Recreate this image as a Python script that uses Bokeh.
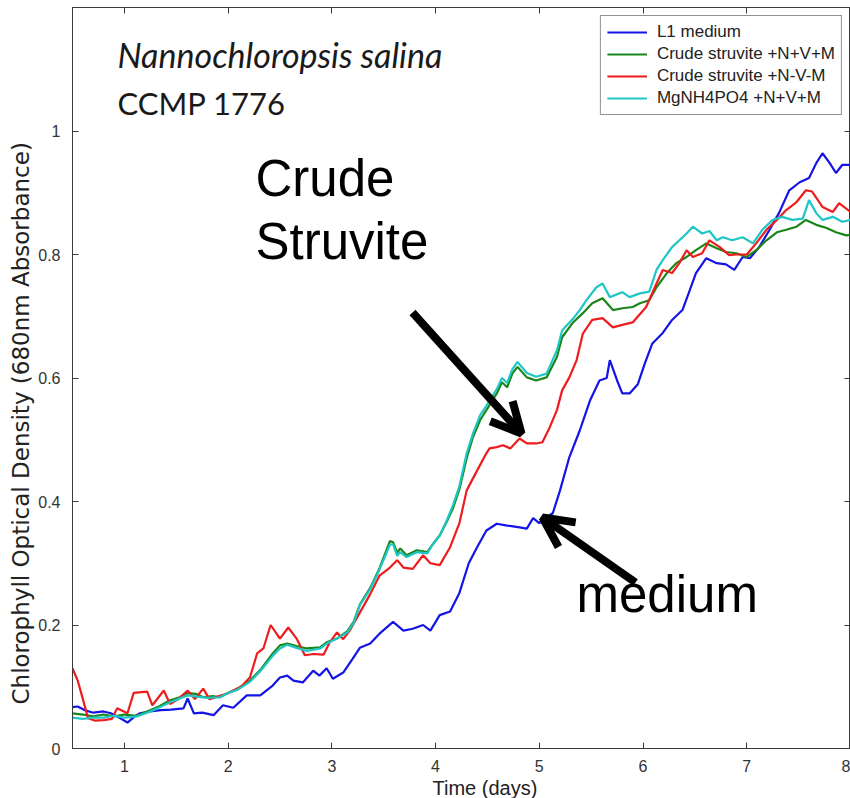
from bokeh.plotting import figure
from bokeh.models import (Range1d, LinearAxis, FixedTicker, Label, Arrow, OpenHead,
                          Legend, LegendItem, Title)
from bokeh.embed import file_html
from bokeh.resources import INLINE

# ---------------- data ----------------
t_l1 = [0.50, 0.55, 0.62, 0.70, 0.80, 0.87, 0.95, 1.03, 1.10, 1.15, 1.25, 1.35, 1.45, 1.57, 1.61, 1.67,
        1.75, 1.86, 1.95, 2.05, 2.18, 2.31, 2.43, 2.50, 2.57, 2.63, 2.72, 2.82, 2.88, 2.95, 3.01, 3.11,
        3.20, 3.27, 3.37, 3.46, 3.59, 3.69, 3.78, 3.88, 3.95, 4.04, 4.14, 4.23, 4.32, 4.40, 4.49, 4.59,
        4.69, 4.81, 4.88, 4.94, 5.00, 5.07, 5.13, 5.20, 5.29, 5.39, 5.49, 5.58, 5.65, 5.68, 5.75, 5.80,
        5.87, 5.95, 6.02, 6.09, 6.19, 6.28, 6.38, 6.45, 6.51, 6.61, 6.71, 6.80, 6.88, 6.96, 7.03, 7.12,
        7.22, 7.31, 7.41, 7.51, 7.60, 7.67, 7.73, 7.80, 7.86, 7.92, 8.00]
od_l1 = [0.067, 0.068, 0.062, 0.058, 0.060, 0.057, 0.050, 0.042, 0.052, 0.057, 0.060, 0.062, 0.063, 0.065, 0.081, 0.057,
         0.058, 0.054, 0.070, 0.066, 0.086, 0.086, 0.102, 0.115, 0.118, 0.110, 0.107, 0.126, 0.118, 0.130, 0.113, 0.123,
         0.145, 0.163, 0.170, 0.186, 0.205, 0.191, 0.194, 0.200, 0.191, 0.216, 0.222, 0.252, 0.300, 0.326, 0.353, 0.364,
         0.361, 0.358, 0.356, 0.373, 0.365, 0.375, 0.381, 0.418, 0.472, 0.515, 0.564, 0.596, 0.600, 0.629, 0.596, 0.575,
         0.575, 0.590, 0.625, 0.656, 0.673, 0.694, 0.710, 0.742, 0.770, 0.794, 0.786, 0.784, 0.775, 0.796, 0.794, 0.812,
         0.840, 0.867, 0.904, 0.917, 0.924, 0.948, 0.964, 0.948, 0.932, 0.945, 0.945]

t_nvm = [0.50, 0.60, 0.70, 0.80, 0.90, 1.00, 1.12, 1.22, 1.32, 1.44, 1.52, 1.61, 1.70, 1.76, 1.85, 1.92,
         2.00, 2.09, 2.21, 2.31, 2.43, 2.50, 2.57, 2.66, 2.76, 2.89, 2.95, 3.05, 3.15, 3.21, 3.27, 3.37,
         3.46, 3.56, 3.59, 3.63, 3.66, 3.72, 3.82, 3.92, 3.97, 4.04, 4.11, 4.17, 4.23, 4.30, 4.36, 4.43,
         4.49, 4.59, 4.64, 4.69, 4.74, 4.79, 4.88, 4.97, 5.07, 5.17, 5.22, 5.32, 5.42, 5.51, 5.61, 5.71,
         5.80, 5.90, 5.97, 6.06, 6.13, 6.23, 6.32, 6.42, 6.51, 6.61, 6.71, 6.80, 6.90, 7.00, 7.09, 7.19,
         7.29, 7.38, 7.48, 7.57, 7.67, 7.77, 7.86, 7.96, 8.00]
od_nvm = [0.057, 0.055, 0.052, 0.055, 0.052, 0.055, 0.053, 0.060, 0.067, 0.078, 0.082, 0.090, 0.088, 0.083, 0.085, 0.083,
          0.090, 0.097, 0.110, 0.127, 0.154, 0.167, 0.170, 0.166, 0.162, 0.164, 0.172, 0.178, 0.190, 0.205, 0.233, 0.260,
          0.292, 0.336, 0.334, 0.317, 0.324, 0.313, 0.321, 0.318, 0.330, 0.345, 0.368, 0.390, 0.420, 0.470, 0.504, 0.532,
          0.548, 0.575, 0.593, 0.585, 0.607, 0.618, 0.601, 0.596, 0.601, 0.634, 0.666, 0.689, 0.705, 0.721, 0.729, 0.710,
          0.713, 0.715, 0.721, 0.726, 0.747, 0.770, 0.786, 0.796, 0.807, 0.818, 0.810, 0.804, 0.802, 0.796, 0.807, 0.823,
          0.836, 0.840, 0.845, 0.856, 0.848, 0.843, 0.836, 0.831, 0.832]

t_nmvm = [0.50, 0.55, 0.60, 0.65, 0.72, 0.80, 0.88, 0.93, 1.03, 1.09, 1.22, 1.27, 1.38, 1.44, 1.52, 1.61,
          1.68, 1.76, 1.82, 1.99, 2.12, 2.21, 2.28, 2.34, 2.41, 2.50, 2.58, 2.66, 2.74, 2.82, 2.92, 2.98,
          3.05, 3.11, 3.18, 3.27, 3.37, 3.46, 3.56, 3.63, 3.69, 3.78, 3.88, 3.95, 4.04, 4.14, 4.23, 4.30,
          4.40, 4.49, 4.52, 4.59, 4.65, 4.72, 4.81, 4.88, 4.97, 5.03, 5.10, 5.17, 5.22, 5.29, 5.36, 5.42,
          5.51, 5.61, 5.71, 5.80, 5.90, 6.03, 6.13, 6.19, 6.28, 6.35, 6.42, 6.48, 6.57, 6.64, 6.74, 6.83,
          6.90, 7.00, 7.09, 7.19, 7.29, 7.38, 7.48, 7.57, 7.63, 7.73, 7.83, 7.89, 8.00]
od_nmvm = [0.130, 0.110, 0.080, 0.049, 0.045, 0.046, 0.048, 0.065, 0.057, 0.090, 0.092, 0.070, 0.094, 0.072, 0.080, 0.094,
           0.080, 0.097, 0.080, 0.089, 0.099, 0.115, 0.154, 0.162, 0.200, 0.178, 0.196, 0.178, 0.151, 0.153, 0.152, 0.172,
           0.188, 0.177, 0.193, 0.220, 0.250, 0.280, 0.293, 0.305, 0.293, 0.291, 0.313, 0.300, 0.297, 0.326, 0.365, 0.418,
           0.450, 0.478, 0.486, 0.488, 0.491, 0.486, 0.502, 0.494, 0.494, 0.496, 0.520, 0.548, 0.580, 0.601, 0.629, 0.672,
           0.694, 0.697, 0.682, 0.686, 0.690, 0.715, 0.753, 0.775, 0.770, 0.786, 0.807, 0.796, 0.802, 0.823, 0.812, 0.799,
           0.800, 0.800, 0.818, 0.840, 0.856, 0.872, 0.885, 0.904, 0.902, 0.877, 0.869, 0.883, 0.869]

t_mg = [0.50, 0.60, 0.70, 0.80, 0.90, 1.00, 1.12, 1.22, 1.32, 1.44, 1.52, 1.61, 1.70, 1.80, 1.92, 2.00,
        2.09, 2.21, 2.31, 2.43, 2.50, 2.57, 2.66, 2.76, 2.89, 2.95, 3.05, 3.15, 3.21, 3.27, 3.37, 3.46,
        3.56, 3.59, 3.63, 3.66, 3.72, 3.82, 3.92, 3.97, 4.04, 4.11, 4.17, 4.23, 4.30, 4.36, 4.43, 4.49,
        4.59, 4.64, 4.69, 4.74, 4.79, 4.88, 4.97, 5.07, 5.17, 5.22, 5.32, 5.39, 5.45, 5.55, 5.61, 5.68,
        5.80, 5.87, 5.97, 6.06, 6.13, 6.19, 6.28, 6.42, 6.48, 6.57, 6.64, 6.71, 6.77, 6.86, 6.96, 7.06,
        7.15, 7.25, 7.34, 7.44, 7.54, 7.60, 7.67, 7.73, 7.83, 7.92, 8.00]
od_mg = [0.050, 0.048, 0.050, 0.050, 0.053, 0.050, 0.052, 0.058, 0.065, 0.075, 0.080, 0.086, 0.084, 0.082, 0.083, 0.090,
         0.095, 0.108, 0.125, 0.150, 0.162, 0.168, 0.163, 0.158, 0.162, 0.170, 0.178, 0.188, 0.203, 0.232, 0.258, 0.290,
         0.330, 0.331, 0.312, 0.318, 0.310, 0.318, 0.316, 0.330, 0.345, 0.370, 0.395, 0.425, 0.478, 0.510, 0.540, 0.555,
         0.582, 0.600, 0.592, 0.614, 0.626, 0.608, 0.602, 0.607, 0.645, 0.677, 0.695, 0.710, 0.725, 0.747, 0.753, 0.731,
         0.739, 0.731, 0.737, 0.740, 0.775, 0.791, 0.812, 0.834, 0.845, 0.834, 0.838, 0.823, 0.828, 0.823, 0.828, 0.818,
         0.840, 0.856, 0.861, 0.856, 0.858, 0.888, 0.867, 0.856, 0.861, 0.853, 0.856]

series_names = ["L1 medium", "Crude struvite +N+V+M", "Crude struvite +N-V-M", "MgNH4PO4 +N+V+M"]
x_ticks = [1, 2, 3, 4, 5, 6, 7, 8]
y_ticks = [0, 0.2, 0.4, 0.6, 0.8, 1.0]
y_tick_labels = ["0", "0.2", "0.4", "0.6", "0.8", "1"]
x_title = "Time (days)"
y_title = "Chlorophyll Optical Density (680nm Absorbance)"

# ---------------- layout ----------------
X0, X1, Y0, Y1 = 0.5, 8.0, 0.0, 1.2
FL, FR, FT, FB = 72, 850, 7, 748          # frame edges in canvas pixels


def dx(px):
    return X0 + (px - FL) / (FR - FL) * (X1 - X0)


def dy(py):
    return Y0 + (FB - py) / (FB - FT) * (Y1 - Y0)


AX = "#3a3a3a"
FONT = "Liberation Sans"

p = figure(width=850, height=798, output_backend="svg", toolbar_location=None,
           x_range=Range1d(X0, X1), y_range=Range1d(Y0, Y1),
           min_border_left=FL, min_border_right=0, min_border_top=FT, min_border_bottom=798 - FB)
p.xgrid.visible = False
p.ygrid.visible = False
p.outline_line_color = AX
p.background_fill_color = "white"
p.border_fill_color = "white"

p.xaxis.ticker = FixedTicker(ticks=x_ticks)
p.yaxis.ticker = FixedTicker(ticks=y_ticks)
p.yaxis.major_label_overrides = {v: s for v, s in zip(y_ticks, y_tick_labels)}
for ax in (p.xaxis[0], p.yaxis[0]):
    ax.axis_line_color = AX
    ax.major_tick_line_color = AX
    ax.major_tick_in = 6
    ax.major_tick_out = 0
    ax.minor_tick_line_color = None
    ax.major_label_text_font = FONT
    ax.major_label_text_font_size = "16px"
    ax.major_label_text_color = "#333333"
p.xaxis.major_label_standoff = 11
p.yaxis.major_label_standoff = 12

# box axes (top / right) with inward ticks, no labels
for loc, tks in (("above", x_ticks), ("right", y_ticks)):
    a = LinearAxis(ticker=FixedTicker(ticks=tks), axis_line_color=AX, major_tick_line_color=AX,
                   major_tick_in=6, major_tick_out=0, minor_tick_line_color=None,
                   major_label_text_font_size="0px", major_label_text_color=None,
                   major_label_standoff=0)
    p.add_layout(a, loc)

# axis titles (offset along the axis as in the reference)
p.add_layout(Title(text=x_title, align="left", offset=360, standoff=0,
                   text_font=FONT, text_font_size="20px", text_font_style="normal",
                   text_color="#222222"), "below")
p.add_layout(Title(text=y_title, align="left", offset=44, standoff=4,
                   text_font="DejaVu Sans", text_font_size="23px", text_font_style="normal",
                   text_color="#222222"), "left")

# ---------------- series ----------------
colors = ["#1414e6", "#1a861a", "#ee1c1c", "#1fc6c6"]
data = [(t_l1, od_l1), (t_nvm, od_nvm), (t_nmvm, od_nmvm), (t_mg, od_mg)]
items = []
for (tx, ty), c, name in zip(data, colors, series_names):
    r = p.line(tx, ty, line_color=c, line_width=2.2)
    items.append(LegendItem(label=name, renderers=[r]))

legend = Legend(items=items, location="top_right", margin=8, padding=6, spacing=2,
                glyph_width=40, glyph_height=16, label_height=20, label_standoff=10,
                label_text_font=FONT, label_text_font_size="17px", label_text_color="#222222",
                border_line_color="#222222", border_line_width=1, background_fill_alpha=1)
p.add_layout(legend)

# ---------------- annotations ----------------
p.add_layout(Label(x=dx(117), y=dy(54), text="Nannochloropsis salina", text_font="Lato",
                   text_font_style="italic", text_font_size="34px", text_color="#1a1a1a",
                   text_baseline="alphabetic"))
p.add_layout(Label(x=dx(117), y=dy(102), text="CCMP 1776", text_font="Lato",
                   text_font_size="31px", text_color="#1a1a1a", text_baseline="alphabetic"))
for txt, px, py in (("Crude", 255, 178), ("Struvite", 255, 241), ("medium", 576, 594)):
    p.add_layout(Label(x=dx(px), y=dy(py), text=txt, text_font=FONT, text_font_size="51px",
                       text_color="black", text_baseline="alphabetic"))

for (sx, sy), (ex, ey) in (((412, 312), (521, 433)), ((635, 582), (542, 517))):
    p.add_layout(Arrow(end=OpenHead(size=30, line_width=8, line_color="black"),
                       x_start=dx(sx), y_start=dy(sy), x_end=dx(ex), y_end=dy(ey),
                       line_width=8, line_color="black"))

open("out.html", "w").write(file_html(p, INLINE))
